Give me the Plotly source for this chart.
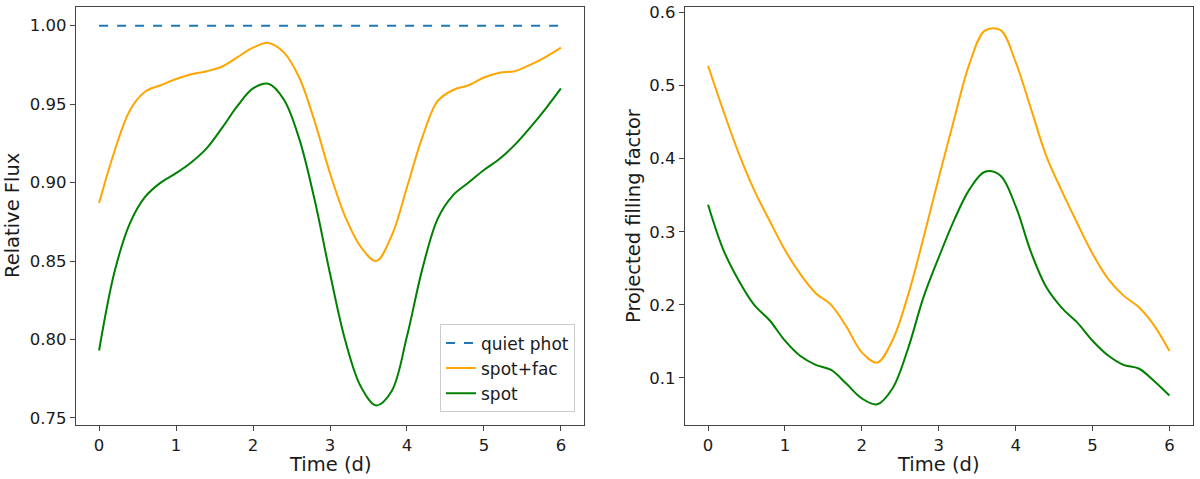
import plotly.graph_objects as go

# Time grid (days)
time_d = [0.0, 0.2, 0.4, 0.6, 0.8, 1.0, 1.2, 1.4, 1.6, 1.8, 2.0,
          2.2, 2.4, 2.6, 2.8, 3.0, 3.2, 3.4, 3.6, 3.8, 4.0,
          4.2, 4.4, 4.6, 4.8, 5.0, 5.2, 5.4, 5.6, 5.8, 6.0]

# Left panel: relative flux
flux_quiet = [1.0] * len(time_d)
flux_spotfac = [0.887, 0.920, 0.946, 0.958, 0.962, 0.966, 0.969, 0.971, 0.974, 0.980, 0.986,
                0.989, 0.983, 0.967, 0.939, 0.906, 0.878, 0.859, 0.850, 0.866, 0.897,
                0.929, 0.952, 0.959, 0.962, 0.967, 0.970, 0.971, 0.975, 0.980, 0.986]
flux_spot = [0.793, 0.843, 0.874, 0.891, 0.900, 0.906, 0.913, 0.922, 0.935, 0.949, 0.960,
             0.963, 0.953, 0.928, 0.889, 0.842, 0.799, 0.770, 0.758, 0.767, 0.802,
             0.845, 0.877, 0.892, 0.900, 0.908, 0.915, 0.924, 0.935, 0.947, 0.960]

# Right panel: projected filling factor
ff_spotfac = [0.527, 0.465, 0.407, 0.357, 0.315, 0.275, 0.242, 0.216, 0.200, 0.170, 0.135,
              0.121, 0.152, 0.213, 0.291, 0.374, 0.454, 0.530, 0.575, 0.576, 0.532,
              0.468, 0.403, 0.356, 0.312, 0.270, 0.236, 0.213, 0.197, 0.172, 0.137]
ff_spot = [0.337, 0.275, 0.233, 0.200, 0.179, 0.151, 0.130, 0.118, 0.111, 0.092, 0.072,
           0.064, 0.086, 0.140, 0.210, 0.265, 0.316, 0.358, 0.382, 0.377, 0.335,
           0.272, 0.224, 0.196, 0.176, 0.151, 0.131, 0.118, 0.113, 0.096, 0.076]

x_ticks = [0, 1, 2, 3, 4, 5, 6]
flux_ticks = [0.75, 0.80, 0.85, 0.90, 0.95, 1.00]
ff_ticks = [0.1, 0.2, 0.3, 0.4, 0.5, 0.6]

BLUE = "#1f77b4"
ORANGE = "#ffa500"
GREEN = "#008000"
FONT = "DejaVu Sans"

fig = go.Figure()

fig.add_trace(go.Scatter(x=time_d, y=flux_quiet, name="quiet phot", mode="lines",
                         line=dict(color=BLUE, width=2, dash="dash"),
                         xaxis="x", yaxis="y"))
fig.add_trace(go.Scatter(x=time_d, y=flux_spotfac, name="spot+fac", mode="lines",
                         line=dict(color=ORANGE, width=2, shape="spline"),
                         xaxis="x", yaxis="y"))
fig.add_trace(go.Scatter(x=time_d, y=flux_spot, name="spot", mode="lines",
                         line=dict(color=GREEN, width=2, shape="spline"),
                         xaxis="x", yaxis="y"))
fig.add_trace(go.Scatter(x=time_d, y=ff_spotfac, name="spot+fac", mode="lines",
                         line=dict(color=ORANGE, width=2, shape="spline"),
                         xaxis="x2", yaxis="y2", showlegend=False))
fig.add_trace(go.Scatter(x=time_d, y=ff_spot, name="spot", mode="lines",
                         line=dict(color=GREEN, width=2, shape="spline"),
                         xaxis="x2", yaxis="y2", showlegend=False))

axis_style = dict(
    showline=True, mirror=True, linecolor="#444444", linewidth=1.2,
    showgrid=False, zeroline=False,
    ticks="outside", ticklen=5, tickwidth=1, tickcolor="#444444",
    tickfont=dict(family=FONT, size=16.5, color="#1a1a1a"),
)

fig.update_layout(
    width=1200, height=479,
    margin=dict(l=0, r=0, t=7, b=54),
    plot_bgcolor="white", paper_bgcolor="white",
    font=dict(family=FONT, color="#1a1a1a"),
    xaxis=dict(domain=[76 / 1200, 584 / 1200], range=[-0.3, 6.3],
               tickvals=x_ticks, anchor="y", **axis_style),
    yaxis=dict(domain=[0, 1], range=[0.7455, 1.0119], tickvals=flux_ticks,
               tickformat=".2f", anchor="x", **axis_style),
    xaxis2=dict(domain=[685 / 1200, 1192.5 / 1200], range=[-0.3, 6.3],
                tickvals=x_ticks, anchor="y2", **axis_style),
    yaxis2=dict(domain=[0, 1], range=[0.0357, 0.6074], tickvals=ff_ticks,
                tickformat=".1f", anchor="x2", **axis_style),
    legend=dict(x=575 / 1200, y=0.03, xanchor="right", yanchor="bottom",
                bgcolor="rgba(255,255,255,0.8)", bordercolor="#cccccc", borderwidth=1,
                font=dict(family=FONT, size=17, color="#1a1a1a")),
    showlegend=True,
)

title_font = dict(family=FONT, size=19.5, color="#1a1a1a")
fig.add_annotation(text="Time (d)", x=330 / 1200, y=-0.094, xref="paper", yref="paper",
                   showarrow=False, xanchor="center", yanchor="middle", font=title_font)
fig.add_annotation(text="Time (d)", x=938.75 / 1200, y=-0.094, xref="paper", yref="paper",
                   showarrow=False, xanchor="center", yanchor="middle", font=title_font)
fig.add_annotation(text="Relative Flux", x=12 / 1200, y=0.5, xref="paper", yref="paper",
                   showarrow=False, textangle=-90, xanchor="center", yanchor="middle",
                   font=title_font)
fig.add_annotation(text="Projected filling factor", x=633 / 1200, y=0.5, xref="paper",
                   yref="paper", showarrow=False, textangle=-90, xanchor="center",
                   yanchor="middle", font=title_font)

# drop the browser's default body margin so the figure sits at the page origin
fig.write_html("out.html", config={"displayModeBar": False},
               post_script="document.body.style.margin='0';")
